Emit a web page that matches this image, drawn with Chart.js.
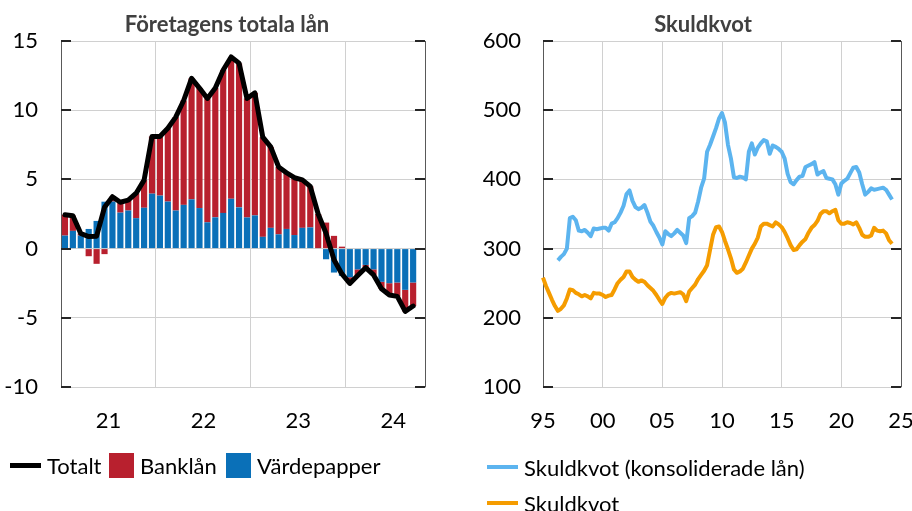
<!DOCTYPE html>
<html>
<head>
<meta charset="utf-8">
<script src="https://cdn.jsdelivr.net/npm/chart.js@4.4.1/dist/chart.umd.min.js"></script>
<style>
  body { margin: 0; width: 912px; height: 511px; background: #fff; position: relative; overflow: hidden; font-family: Lato, sans-serif; }
  .panel { position: absolute; top: 0; height: 511px; }
  #leftBox { left: 0; width: 456px; }
  #rightBox { left: 456px; width: 456px; }
  .title { position: absolute; top: 11px; width: 300px; text-align: center; font-size: 22px; line-height: 26px; font-weight: bold; color: #404040; }
  .item { position: absolute; display: flex; align-items: center; height: 26px; font-size: 22px; color: #000; white-space: nowrap; }
  .line { display: inline-block; width: 31px; height: 5px; margin-right: 6px; }
  .box { display: inline-block; width: 25px; height: 25px; margin-right: 6px; }
</style>
</head>
<body>
<div class="panel" id="leftBox"><canvas id="loanChart"></canvas></div>
<div class="panel" id="rightBox"><canvas id="debtChart"></canvas></div>

<div class="title" style="left:77px;">Företagens totala lån</div>
<div class="title" style="left:553px;">Skuldkvot</div>

<div class="item" style="left:10px; top:452px;"><span class="line" style="background:#000"></span>Totalt</div>
<div class="item" style="left:109px; top:452px;"><span class="box" style="background:#b8202e"></span>Banklån</div>
<div class="item" style="left:226px; top:452px;"><span class="box" style="background:#0a70b8"></span>Värdepapper</div>
<div class="item" style="left:487px; top:454px;"><span class="line" style="background:#5cb4ef; height:4px"></span>Skuldkvot (konsoliderade lån)</div>
<div class="item" style="left:487px; top:490px;"><span class="line" style="background:#f59c00; height:4px"></span>Skuldkvot</div>

<script>
// Företagens totala lån, monthly Jan 2021 - Sep 2024 (axis runs to Oct 2024)
const loanYears = [2021, 2022, 2023, 2024];
const yearTicks = ['21', '22', '23', '24'];
const vardepapper = [0.94, 1.28, 0.94, 1.42, 2.0, 3.39, 3.4, 2.6, 2.75, 2.2, 2.95, 3.97,
    3.83, 3.4, 2.75, 3.16, 3.56, 2.93, 1.9, 2.26, 2.58, 3.6, 2.98, 2.25,
    2.4, 0.85, 1.5, 1.03, 1.42, 0.98, 1.5, 1.53, 0.0, -0.77, -1.73, -1.97,
    -2.07, -1.5, -1.18, -1.5, -2.4, -2.5, -2.45, -2.98, -2.45];
const banklan = [1.5, 1.1, 0.15, -0.55, -1.1, -0.4, 0.35, 0.75, 0.75, 1.8, 2.0, 4.13,
    4.27, 5.3, 6.75, 7.54, 8.74, 8.67, 8.95, 9.34, 10.32, 10.25, 10.4, 8.6,
    8.85, 7.2, 5.85, 4.87, 4.06, 4.14, 3.47, 2.97, 2.5, 1.88, 0.92, 0.14,
    -0.45, -0.45, -0.2, -0.4, -0.5, -0.85, -1.0, -1.56, -1.7];
const totalt = [2.44, 2.38, 1.09, 0.87, 0.9, 2.99, 3.75, 3.35, 3.5, 4.0, 4.95, 8.1,
    8.1, 8.7, 9.5, 10.7, 12.3, 11.6, 10.85, 11.6, 12.9, 13.85, 13.4, 10.85,
    11.25, 8.05, 7.35, 5.9, 5.48, 5.12, 4.97, 4.5, 2.5, 1.1, -0.81, -1.83,
    -2.52, -1.95, -1.38, -1.9, -2.9, -3.35, -3.45, -4.54, -4.15];

// Skuldkvot, quarterly 1995K1 - 2024K2 (axis runs to 2025K1)
const skuldYearsFrom = 1995, skuldYearsTo = 2025;
const skuldTicks = ['95', '00', '05', '10', '15', '20', '25'];
const skuldkvotKons = [null, null, null, null,
    null, 283, 288, 292,
    300, 344, 346, 341,
    326, 325, 327, 323,
    318, 329, 328, 329,
    330, 330, 326, 336,
    338, 344, 352, 362,
    379, 384, 369, 360,
    357, 359, 363, 352,
    339, 333, 324, 316,
    306, 325, 321, 318,
    322, 327, 323, 319,
    308, 344, 347, 352,
    368, 388, 401, 440,
    450, 462, 474, 488,
    496, 482, 450, 430,
    403, 402, 404, 403,
    400, 440, 452, 436,
    446, 452, 457, 455,
    437, 449, 447, 444,
    440, 430, 408, 396,
    393, 399, 404, 405,
    418, 420, 422, 425,
    407, 410, 412, 402,
    401, 400, 393, 378,
    394, 398, 401, 409,
    417, 418, 410, 393,
    378, 382, 387, 385,
    386, 387, 388, 385,
    378, 371];
const skuldkvot = [258, 246, 236, 226,
    217, 210, 213, 218,
    228, 241, 240, 236,
    234, 231, 233, 231,
    228, 236, 235, 235,
    233, 230, 232, 233,
    241, 250, 255, 259,
    267, 267, 259, 255,
    252, 254, 252, 247,
    243, 239, 233, 226,
    220, 229, 234, 236,
    235, 236, 237, 234,
    224, 238, 243, 248,
    256, 262, 268, 276,
    298, 320, 331, 332,
    324, 311, 299, 286,
    270, 265, 267, 271,
    280, 290, 300, 307,
    316, 332, 336, 336,
    334, 332, 338, 335,
    331, 324, 315, 305,
    298, 299, 305, 310,
    314, 323, 330, 334,
    340, 350, 354, 354,
    351, 354, 356, 341,
    336, 336, 338, 337,
    335, 338, 330, 320,
    317, 317, 319, 330,
    326, 325, 326, 322,
    312, 307];

const months = [];
loanYears.forEach(y => {
    for (let m = 1; m <= 12; m++) months.push(y + '-' + String(m).padStart(2, '0'));
});
months.length = 46;

const quarters = [];
for (let y = skuldYearsFrom; y <= skuldYearsTo; y++) {
    for (let q = 1; q <= 4; q++) quarters.push(y + 'K' + q);
}
quarters.length = (skuldYearsTo - skuldYearsFrom) * 4 + 1;

Chart.defaults.font.family = 'Lato';
Chart.defaults.font.size = 22;
Chart.defaults.color = '#000';
Chart.defaults.animation = false;

const GRID = '#d0d0d0';
const AXIS = '#595959';

// right-hand border and the short inward tick marks on both sides
const frameTicks = {
    id: 'frameTicks',
    afterDatasetsDraw(chart) {
        const { ctx, chartArea: a, scales: { y } } = chart;
        ctx.save();
        ctx.strokeStyle = AXIS;
        ctx.lineWidth = 1;
        ctx.beginPath();
        ctx.moveTo(Math.round(a.right) + 0.5, a.top);
        ctx.lineTo(Math.round(a.right) + 0.5, a.bottom);
        ctx.stroke();
        ctx.strokeStyle = '#262626';
        ctx.lineWidth = 2;
        ctx.beginPath();
        y.ticks.forEach(t => {
            const py = Math.round(y.getPixelForValue(t.value));
            ctx.moveTo(a.left, py); ctx.lineTo(a.left + 10, py);
            ctx.moveTo(a.right - 10, py); ctx.lineTo(a.right, py);
        });
        ctx.stroke();
        ctx.restore();
    }
};

// Left: Företagens totala lån
new Chart(document.getElementById('loanChart').getContext('2d'), {
    data: {
        labels: months,
        datasets: [{
            type: 'line',
            label: 'Totalt',
            data: totalt,
            borderColor: '#000',
            borderWidth: 5,
            pointRadius: 0,
            tension: 0,
            borderJoinStyle: 'round',
            borderCapStyle: 'round',
            order: 0
        }, {
            type: 'bar',
            label: 'Värdepapper',
            data: vardepapper,
            backgroundColor: '#0a70b8',
            barPercentage: 0.78,
            categoryPercentage: 1,
            order: 1
        }, {
            type: 'bar',
            label: 'Banklån',
            data: banklan,
            backgroundColor: '#b8202e',
            barPercentage: 0.78,
            categoryPercentage: 1,
            order: 2
        }]
    },
    options: {
        responsive: true,
        maintainAspectRatio: false,
        layout: { padding: { left: 0, right: 31, top: 41, bottom: 74 } },
        plugins: {
            legend: { display: false },
            tooltip: { enabled: false },
            title: { display: false }
        },
        scales: {
            x: {
                stacked: true,
                offset: true,
                afterFit(scale) { scale.height = 50; scale.paddingLeft = 0; scale.paddingRight = 0; },
                grid: {
                    offset: true,
                    drawTicks: false,
                    color: ctx => (ctx.index > 0 && ctx.index % 12 === 0) ? GRID : 'transparent'
                },
                border: { color: GRID },
                ticks: {
                    autoSkip: false,
                    maxRotation: 0,
                    padding: 21,
                    labelOffset: -4,
                    callback: (v, i) => i % 12 === 6 ? yearTicks[Math.floor(i / 12)] : ''
                }
            },
            y: {
                stacked: true,
                min: -10,
                max: 15,
                afterFit(scale) { scale.width = 61; },
                grid: { color: GRID, drawTicks: false },
                border: { color: AXIS },
                ticks: { stepSize: 5, padding: 23 }
            }
        }
    },
    plugins: [frameTicks]
});

// Right: Skuldkvot
new Chart(document.getElementById('debtChart').getContext('2d'), {
    type: 'line',
    data: {
        labels: quarters,
        datasets: [{
            label: 'Skuldkvot (konsoliderade lån)',
            data: skuldkvotKons,
            borderColor: '#5cb4ef',
            borderWidth: 4,
            pointRadius: 0,
            tension: 0,
            borderJoinStyle: 'round'
        }, {
            label: 'Skuldkvot',
            data: skuldkvot,
            borderColor: '#f59c00',
            borderWidth: 4,
            pointRadius: 0,
            tension: 0,
            borderJoinStyle: 'round'
        }]
    },
    options: {
        responsive: true,
        maintainAspectRatio: false,
        layout: { padding: { left: 0, right: 11, top: 41, bottom: 74 } },
        plugins: {
            legend: { display: false },
            tooltip: { enabled: false },
            title: { display: false }
        },
        scales: {
            x: {
                offset: false,
                // keep the last label ("25") from shrinking the plot area
                afterFit(scale) { scale.height = 50; scale.paddingLeft = 0; scale.paddingRight = 0; },
                grid: {
                    drawTicks: false,
                    color: ctx => (ctx.index > 0 && ctx.index < quarters.length - 1 && ctx.index % 20 === 0) ? GRID : 'transparent'
                },
                border: { color: GRID },
                ticks: {
                    autoSkip: false,
                    maxRotation: 0,
                    padding: 21,
                    callback: (v, i) => i % 20 === 0 ? skuldTicks[i / 20] : ''
                }
            },
            y: {
                min: 100,
                max: 600,
                afterFit(scale) { scale.width = 87; },
                grid: { color: GRID, drawTicks: false },
                border: { color: AXIS },
                ticks: { stepSize: 100, padding: 22 }
            }
        }
    },
    plugins: [frameTicks]
});
</script>
</body>
</html>
